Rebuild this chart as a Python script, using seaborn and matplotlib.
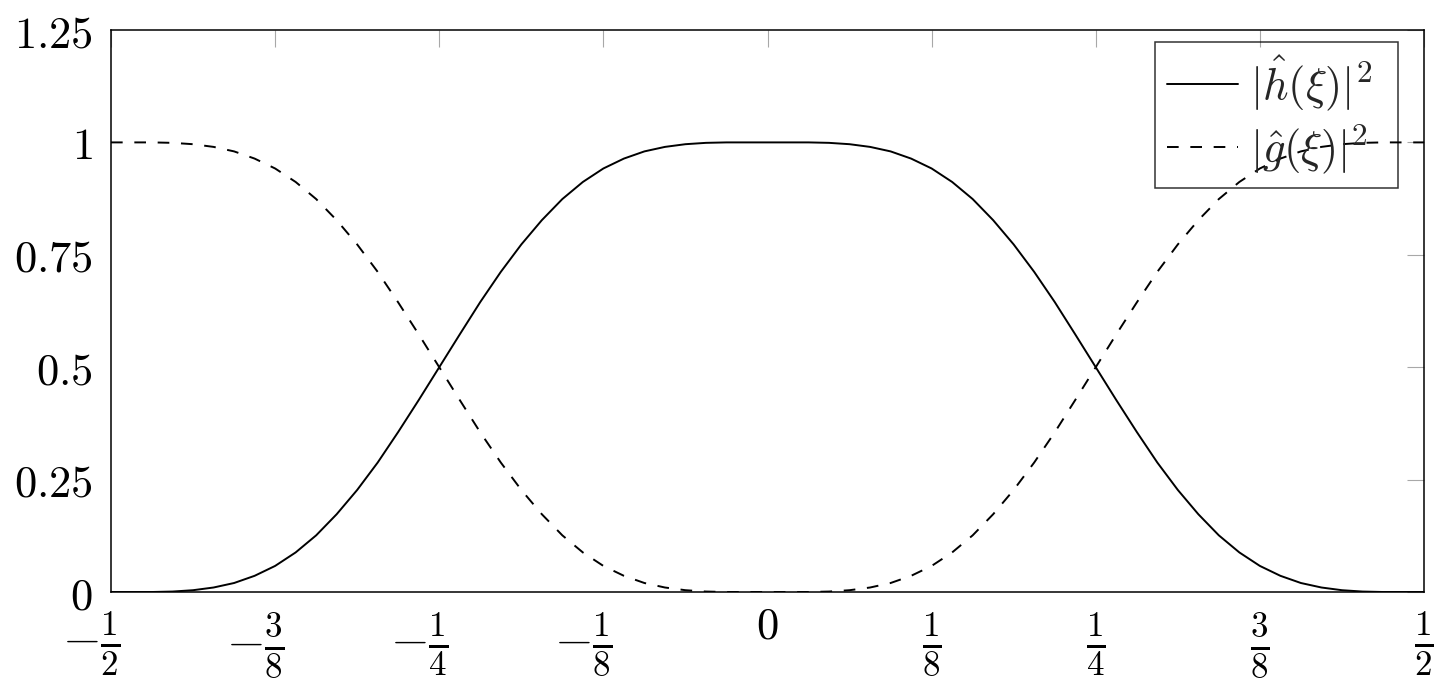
import numpy as np
import pandas as pd
import matplotlib
matplotlib.use("Agg")
import matplotlib.pyplot as plt
from matplotlib.transforms import ScaledTranslation
import seaborn as sns

# ---- data, xi = k/64 ----
xi_64ths = list(range(-32, 33))
h_sq = [0.000, 0.000, 0.000, 0.001, 0.004, 0.010, 0.020, 0.036, 0.058, 0.088,
        0.126, 0.173, 0.227, 0.288, 0.356, 0.427, 0.500, 0.573, 0.645, 0.712,
        0.773, 0.827, 0.874, 0.912, 0.942, 0.964, 0.980, 0.990, 0.996, 0.999,
        1.000, 1.000, 1.000,
        1.000, 1.000, 0.999, 0.996, 0.990, 0.980, 0.964, 0.942, 0.912, 0.874,
        0.827, 0.773, 0.712, 0.645, 0.573, 0.500, 0.427, 0.356, 0.288, 0.227,
        0.173, 0.126, 0.088, 0.058, 0.036, 0.020, 0.010, 0.004, 0.001, 0.000,
        0.000, 0.000]
g_sq = [1.000, 1.000, 1.000, 0.999, 0.996, 0.990, 0.980, 0.964, 0.942, 0.912,
        0.874, 0.827, 0.773, 0.712, 0.644, 0.573, 0.500, 0.427, 0.355, 0.288,
        0.227, 0.173, 0.126, 0.088, 0.058, 0.036, 0.020, 0.010, 0.004, 0.001,
        0.000, 0.000, 0.000,
        0.000, 0.000, 0.001, 0.004, 0.010, 0.020, 0.036, 0.058, 0.088, 0.126,
        0.173, 0.227, 0.288, 0.355, 0.427, 0.500, 0.573, 0.644, 0.712, 0.773,
        0.827, 0.874, 0.912, 0.942, 0.964, 0.980, 0.990, 0.996, 0.999, 1.000,
        1.000, 1.000]
h_label = r'$|\hat{h}(\xi)|^2$'
g_label = r'$|\hat{g}(\xi)|^2$'

x_ticks = [-0.5, -0.375, -0.25, -0.125, 0.0, 0.125, 0.25, 0.375, 0.5]
x_tick_labels = [r'$-\frac{1}{2}$', r'$-\frac{3}{8}$', r'$-\frac{1}{4}$', r'$-\frac{1}{8}$',
                 r'$0$', r'$\frac{1}{8}$', r'$\frac{1}{4}$', r'$\frac{3}{8}$', r'$\frac{1}{2}$']
y_ticks = [0, 0.25, 0.5, 0.75, 1.0, 1.25]
y_tick_labels = [r'$0$', r'$0.25$', r'$0.5$', r'$0.75$', r'$1$', r'$1.25$']

xi = np.array(xi_64ths) / 64.0
df = pd.concat([
    pd.DataFrame({'xi': xi, 'value': h_sq, 'series': h_label}),
    pd.DataFrame({'xi': xi, 'value': g_sq, 'series': g_label}),
], ignore_index=True)

sns.set_style("white")
plt.rcParams['mathtext.fontset'] = 'cm'
plt.rcParams['font.family'] = ['DejaVu Serif']

W, H = 1454, 679
fig = plt.figure(figsize=(W / 100, H / 100), dpi=100)
ax = fig.add_axes([111 / W, 1 - 592 / H, 1313 / W, 562 / H])

sns.lineplot(data=df, x='xi', y='value', style='series', color='black',
             dashes={h_label: '', g_label: (6, 6)}, linewidth=1.4, ax=ax,
             estimator=None, sort=False)

ax.set_xlim(-0.5, 0.5)
ax.set_ylim(0, 1.25)
ax.set_xticks(x_ticks)
ax.set_xticklabels(x_tick_labels)
ax.set_yticks(y_ticks)
ax.set_yticklabels(y_tick_labels)
ax.set_xlabel('')
ax.set_ylabel('')
ax.tick_params(direction='in', length=12, width=0.8, color='#a8a8a8',
               top=True, right=True, labelcolor='black')
ax.tick_params(axis='x', pad=13, labelsize=36)
ax.tick_params(axis='y', pad=13, labelsize=32)
for s in ax.spines.values():
    s.set_color('black')
    s.set_linewidth(1.1)

for lab, val in zip(ax.get_xticklabels(), x_ticks):
    if val == 0:
        lab.set_fontsize(32)
        lab.set_transform(lab.get_transform() + ScaledTranslation(0, 6 / 100, fig.dpi_scale_trans))
    if val < 0:
        # centre the fraction itself on its tick
        lab.set_transform(lab.get_transform() + ScaledTranslation(-20 / 100, 0, fig.dpi_scale_trans))

handles, labels = ax.get_legend_handles_labels()
x0 = (1155 - 111) / 1313
wid = 243 / 1313
top = (592 - 42) / 562
leg = ax.legend(handles, labels, loc='upper right', mode='expand',
                bbox_to_anchor=(x0, 0.5, wid, top - 0.5),
                borderaxespad=0, fancybox=False, edgecolor='black',
                facecolor='none', framealpha=None, fontsize=32,
                handlelength=1.6, handletextpad=0.28, labelspacing=0.2,
                borderpad=0.26)
leg.get_frame().set_linewidth(1.1)

fig.savefig('out.png', dpi=100)
